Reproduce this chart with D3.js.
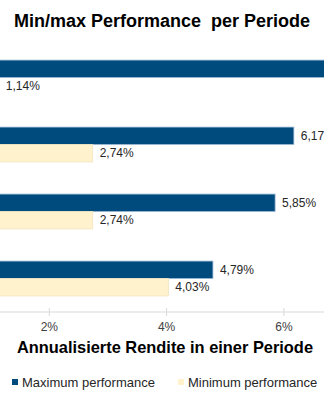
<!DOCTYPE html>
<html>
<head>
<meta charset="utf-8">
<script src="https://cdn.jsdelivr.net/npm/d3@7"></script>
<style>
  body { margin: 0; background: #fff; }
  text { font-family: "Liberation Sans", Arial, sans-serif; }
</style>
</head>
<body>
<div id="chart"></div>
<script>
// data (top to bottom, as shown)
const categories = ["Periode A", "Periode B", "Periode C", "Periode D"];
const maxPerf = [0.075, 0.0617, 0.0585, 0.0479];
const minPerf = [0.0114, 0.0274, 0.0274, 0.0403];
const xTicks = [0.02, 0.04, 0.06];
const seriesNames = ["Maximum performance", "Minimum performance"];

const W = 324, H = 400;
const colors = { max: "#004B7D", min: "#FFF2CC" };
const strokes = { max: "#9bb8d4", min: "#efe3bd" };

const svg = d3.select("#chart").append("svg")
    .attr("width", W).attr("height", H);

// x scale: the plot's zero sits left of the visible area
const x = d3.scaleLinear().domain([0, 0.02]).range([-68, 49.3]);

// y band per category, then per series
const y = d3.scaleBand().domain(categories).range([44, 312])
    .paddingInner(0.48).paddingOuter(0.24);
const ySub = d3.scaleBand().domain(["max", "min"]).range([0, y.bandwidth()]);

const fmt = v => (v * 100).toFixed(2).replace(".", ",") + "%";

// title
svg.append("text")
    .attr("x", 162).attr("y", 27)
    .attr("text-anchor", "middle")
    .style("font-size", "18px").style("font-weight", "bold")
    .style("white-space", "pre")
    .attr("fill", "#000")
    .text("Min/max Performance  per Periode");

// bars
const rows = categories.map((c, i) => ({ cat: c, max: maxPerf[i], min: minPerf[i] }));
const groups = svg.append("g").selectAll("g").data(rows).join("g")
    .attr("transform", d => `translate(0,${y(d.cat)})`);

["max", "min"].forEach(k => {
  groups.append("rect")
    .attr("x", x(0))
    .attr("y", ySub(k))
    .attr("width", d => x(d[k]) - x(0))
    .attr("height", ySub.bandwidth())
    .attr("fill", colors[k])
    .attr("stroke", strokes[k])
    .attr("stroke-width", 0.8);

  // value labels (those past the right edge stay out of view, as in the original)
  groups.filter(d => x(d[k]) + 7 < W)
    .append("text")
    .attr("x", d => x(d[k]) + 7)
    .attr("y", ySub(k) + ySub.bandwidth() / 2)
    .attr("dy", "0.35em")
    .style("font-size", "12px")
    .attr("fill", "#262626")
    .text(d => fmt(d[k]));
});

// x axis
const axis = svg.append("g").attr("transform", "translate(0,312)");
axis.append("line")
    .attr("x1", 0).attr("x2", W).attr("y1", 0).attr("y2", 0)
    .attr("stroke", "#d9d9d9");
axis.selectAll("line.tick").data(xTicks).join("line")
    .attr("class", "tick")
    .attr("x1", d => x(d)).attr("x2", d => x(d))
    .attr("y1", -4).attr("y2", 4)
    .attr("stroke", "#d9d9d9");
axis.selectAll("text").data(xTicks).join("text")
    .attr("x", d => x(d)).attr("y", 19)
    .attr("text-anchor", "middle")
    .style("font-size", "12px")
    .attr("fill", "#404040")
    .text(d => Math.round(d * 100) + "%");

// axis title
svg.append("text")
    .attr("x", 165).attr("y", 353)
    .attr("text-anchor", "middle")
    .style("font-size", "16.4px").style("font-weight", "bold")
    .attr("fill", "#000")
    .text("Annualisierte Rendite in einer Periode");

// legend
const legendX = [12, 178];
const legend = svg.append("g").selectAll("g").data(seriesNames).join("g")
    .attr("transform", (d, i) => `translate(${legendX[i]},382)`);
legend.append("rect")
    .attr("x", 0).attr("y", -3).attr("width", 6).attr("height", 6)
    .attr("fill", (d, i) => i === 0 ? colors.max : colors.min);
legend.append("text")
    .attr("x", 10).attr("y", 0).attr("dy", "0.35em")
    .style("font-size", "13px")
    .attr("fill", "#262626")
    .text(d => d);
</script>
</body>
</html>
